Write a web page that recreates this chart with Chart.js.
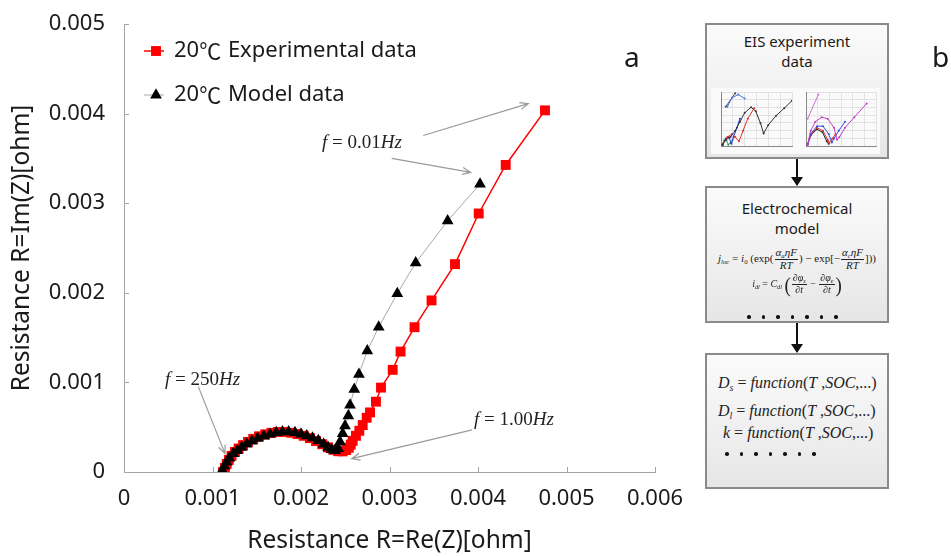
<!DOCTYPE html>
<html>
<head>
<meta charset="utf-8">
<script src="https://cdn.jsdelivr.net/npm/chart.js@4.4.1/dist/chart.umd.min.js"></script>
<style>
  html, body { margin: 0; padding: 0; background: #fff; }
  #wrap { position: relative; width: 951px; height: 556px; overflow: hidden; }
  #main { position: absolute; left: 0; top: 0; }
  .tag { position: absolute; font-family: "Noto Sans", "DejaVu Sans", sans-serif; font-size: 28px; color: #1a1a1a; line-height: 1; }
  .box { position: absolute; left: 705px; width: 184px; box-sizing: border-box;
         border: 2px solid #8a8a8a; background: linear-gradient(#fbfbfb, #e6e6e6); }
  .head { position: absolute; left: 0; width: 100%; text-align: center;
          font-family: "Noto Sans", "DejaVu Sans", sans-serif; font-size: 15px; line-height: 20px; color: #1a1a1a; }
  .flow { position: absolute; left: 796px; width: 2px; background: #111; }
  .flow::after { content: ""; position: absolute; left: -5px; bottom: -1px; border-left: 6px solid transparent;
                 border-right: 6px solid transparent; border-top: 9px solid #111; }
  .eq { position: absolute; left: 705px; width: 184px; text-align: center; white-space: nowrap;
        font-family: "Liberation Serif", "Times New Roman", serif; color: #222; }
  .eq i { font-style: italic; }
  .eq sub { font-size: 0.62em; vertical-align: -0.3em; }
  .frac { display: inline-flex; flex-direction: column; vertical-align: middle; text-align: center; line-height: 1.05; margin: 0 1px; }
  .frac > span:first-child { border-bottom: 1px solid #222; padding: 0 1px; }
  .big { font-size: 1.9em; vertical-align: middle; font-style: normal; display: inline-block; transform: scaleY(1.15); line-height: 1; }
  .dots { position: absolute; display: flex; gap: 11px; }
  .dots span { width: 3.5px; height: 3.5px; border-radius: 50%; background: #111; }
  .thumb { position: absolute; background: #fafafa; filter: blur(0.45px); }
</style>
</head>
<body>
<div id="wrap">
  <canvas id="main" width="951" height="556"></canvas>
  <div class="tag" style="left:624px; top:42px;">a</div>
  <div class="tag" style="left:932px; top:42px;">b</div>

  <div class="box" style="top:23px; height:136px;">
    <div class="head" style="top:6px;">EIS experiment<br>data</div>
  </div>
  <canvas class="thumb" id="thumbL" width="85" height="66" style="left:711px; top:88px;"></canvas>
  <canvas class="thumb" id="thumbR" width="84" height="66" style="left:796px; top:88px;"></canvas>
  <div class="flow" style="top:159px; height:26px;"></div>

  <div class="box" style="top:186px; height:137px;">
    <div class="head" style="top:10px;">Electrochemical<br>model</div>
  </div>
  <div class="eq" style="top:247px; font-size:11px;">
    <i>j</i><sub><i>loc</i></sub> = <i>i</i><sub>0</sub> (exp(<span class="frac"><span><i>α<sub>a</sub>ηF</i></span><span><i>RT</i></span></span>) − exp[−<span class="frac"><span><i>α<sub>c</sub>ηF</i></span><span><i>RT</i></span></span>]))
  </div>
  <div class="eq" style="top:273px; font-size:10px;">
    <i>i</i><sub><i>dl</i></sub> = <i>C</i><sub><i>dl</i></sub> <span class="big">(</span><span class="frac"><span><i>∂φ<sub>s</sub></i></span><span><i>∂t</i></span></span> − <span class="frac"><span><i>∂φ<sub>e</sub></i></span><span><i>∂t</i></span></span><span class="big">)</span>
  </div>
  <div class="dots" style="left:747px; top:315px;"><span></span><span></span><span></span><span></span><span></span><span></span><span></span></div>
  <div class="flow" style="top:323px; height:29px;"></div>

  <div class="box" style="top:353px; height:136px;"></div>
  <div class="eq" style="top:374px; font-size:16px; text-align:left; left:718px;"><i>D<sub>s</sub></i> = <i>function</i>(<i>T</i> ,<i>SOC</i>,...)</div>
  <div class="eq" style="top:402px; font-size:16px; text-align:left; left:718px;"><i>D<sub>l</sub></i> = <i>function</i>(<i>T</i> ,<i>SOC</i>,...)</div>
  <div class="eq" style="top:424px; font-size:16px; text-align:left; left:723px;"><i>k</i> = <i>function</i>(<i>T</i> ,<i>SOC</i>,...)</div>
  <div class="dots" style="left:725px; top:452px;"><span></span><span></span><span></span><span></span><span></span><span></span><span></span></div>
</div>

<script>
// ---- Nyquist data at 20 °C (Re(Z), Im(Z) in ohm) ----
const expLabel = '20\u2103 Experimental data';
const expRe = [0.001119, 0.001140, 0.001160, 0.001185, 0.001215, 0.001254, 0.001295, 0.001345, 0.001401, 0.001460,
               0.001525, 0.001595, 0.001665, 0.001740, 0.001815, 0.001890, 0.001960, 0.002030, 0.002100, 0.002170,
               0.002240, 0.002305, 0.002365, 0.002420, 0.002470, 0.002510, 0.002540, 0.002562, 0.002584, 0.002621,
               0.002659, 0.002697, 0.002742, 0.002780, 0.002847, 0.002904, 0.003036, 0.003125, 0.003283, 0.003475,
               0.003740, 0.004008, 0.004313, 0.004757];
const expIm = [0.000000, 0.000045, 0.000090, 0.000135, 0.000180, 0.000224, 0.000262, 0.000300, 0.000336, 0.000370,
               0.000398, 0.000420, 0.000437, 0.000447, 0.000447, 0.000438, 0.000424, 0.000404, 0.000378, 0.000345,
               0.000310, 0.000275, 0.000248, 0.000232, 0.000230, 0.000245, 0.000270, 0.000306, 0.000348, 0.000404,
               0.000460, 0.000524, 0.000605, 0.000665, 0.000785, 0.000942, 0.001140, 0.001344, 0.001616, 0.001915,
               0.002320, 0.002885, 0.003427, 0.004036];

const modLabel = '20\u2103 Model data';
const modRe = [0.001110, 0.001135, 0.001160, 0.001190, 0.001235, 0.001280, 0.001330, 0.001386, 0.001445, 0.001510,
               0.001580, 0.001650, 0.001720, 0.001790, 0.001860, 0.001932, 0.002000, 0.002065, 0.002130, 0.002196,
               0.002255, 0.002305, 0.002345, 0.002384, 0.002420, 0.002441, 0.002471, 0.002497, 0.002535, 0.002554,
               0.002602, 0.002655, 0.002749, 0.002878, 0.003088, 0.003296, 0.003657, 0.004023];
const modIm = [0.000020, 0.000065, 0.000110, 0.000155, 0.000205, 0.000240, 0.000275, 0.000310, 0.000345, 0.000375,
               0.000400, 0.000422, 0.000440, 0.000448, 0.000448, 0.000440, 0.000423, 0.000403, 0.000380, 0.000350,
               0.000310, 0.000275, 0.000250, 0.000240, 0.000262, 0.000336, 0.000429, 0.000516, 0.000628, 0.000748,
               0.000923, 0.001091, 0.001353, 0.001618, 0.001992, 0.002335, 0.002803, 0.003214];

// axis ranges and tick step
const reRange = [0, 0.006];
const imRange = [0, 0.005];
const tickStep = 0.001;

// frequency call-outs: label anchor and arrows (tail -> head), in ohm
const freqNotes = [
  { value: '0.01', at: [0.002237, 0.003677],
    arrows: [[0.003382, 0.003756, 0.004568, 0.004111], [0.003025, 0.003501, 0.003918, 0.003344]] },
  { value: '250', at: [0.000463, 0.001031],
    arrows: [[0.000840, 0.000953, 0.001141, 0.000205]] },
  { value: '1.00', at: [0.003955, 0.000583],
    arrows: [[0.003932, 0.000471, 0.002573, 0.000149]] }
];

const pts = (xs, ys) => xs.map((x, i) => ({ x, y: ys[i] }));
const SANS = '"Noto Sans", "Noto Sans CJK KR", sans-serif';
const CJK = '"Noto Sans CJK KR", "Noto Sans", sans-serif';
const AXIS = '#a3a3a3';
const fmt = v => (Math.abs(v) < 1e-12 ? '0' : v.toFixed(3));

// inward tick marks on both axes
const innerTicks = {
  id: 'innerTicks',
  beforeDatasetsDraw(chart) {
    const { ctx, scales: { x, y } } = chart;
    ctx.save();
    ctx.strokeStyle = AXIS; ctx.lineWidth = 1;
    ctx.beginPath();
    x.ticks.forEach(t => { const p = Math.round(x.getPixelForValue(t.value)) + 0.5; ctx.moveTo(p, y.bottom); ctx.lineTo(p, y.bottom - 5); });
    y.ticks.forEach(t => { const p = Math.round(y.getPixelForValue(t.value)) + 0.5; ctx.moveTo(x.left, p); ctx.lineTo(x.left + 5, p); });
    ctx.stroke();
    ctx.restore();
  }
};

// frequency labels with arrows
const freqCallouts = {
  id: 'freqCallouts',
  afterDatasetsDraw(chart) {
    const { ctx, scales: { x, y } } = chart;
    ctx.save();
    ctx.strokeStyle = '#9a9a9a'; ctx.lineWidth = 1.2;
    freqNotes.forEach(n => {
      n.arrows.forEach(a => {
        const x1 = x.getPixelForValue(a[0]), y1 = y.getPixelForValue(a[1]);
        const x2 = x.getPixelForValue(a[2]), y2 = y.getPixelForValue(a[3]);
        const ang = Math.atan2(y2 - y1, x2 - x1), L = 9, w = 0.4;
        ctx.beginPath();
        ctx.moveTo(x1, y1); ctx.lineTo(x2, y2);
        ctx.moveTo(x2 - L * Math.cos(ang - w), y2 - L * Math.sin(ang - w));
        ctx.lineTo(x2, y2);
        ctx.lineTo(x2 - L * Math.cos(ang + w), y2 - L * Math.sin(ang + w));
        ctx.stroke();
      });
      const parts = [['f', true], [' = ', false], [n.value, false], ['Hz', true]];
      let cx = x.getPixelForValue(n.at[0]);
      const cy = y.getPixelForValue(n.at[1]);
      ctx.fillStyle = '#222'; ctx.textBaseline = 'middle'; ctx.textAlign = 'left';
      parts.forEach(([t, it]) => {
        ctx.font = (it ? 'italic ' : '') + '19px "Liberation Serif", serif';
        ctx.fillText(t, cx, cy);
        cx += ctx.measureText(t).width;
      });
    });
    ctx.restore();
  }
};

// legend inside the plot, upper-left; the degree sign uses the CJK face
const innerLegend = {
  id: 'innerLegend',
  afterDraw(chart) {
    const { ctx } = chart;
    const rows = [51, 95];
    ctx.save();
    chart.data.datasets.forEach((ds, i) => {
      const yy = rows[i];
      ctx.strokeStyle = ds.borderColor; ctx.lineWidth = ds.borderWidth;
      ctx.beginPath(); ctx.moveTo(144, yy); ctx.lineTo(164, yy); ctx.stroke();
      ctx.fillStyle = ds.pointBackgroundColor; ctx.strokeStyle = ds.pointBorderColor;
      Chart.helpers.drawPoint(ctx, { pointStyle: ds.pointStyle, radius: ds.pointRadius, rotation: 0, borderWidth: 0 }, 156, yy);
      ctx.fillStyle = '#1a1a1a';
      ctx.textBaseline = 'middle'; ctx.textAlign = 'left';
      let cx = 174;
      ds.label.split(/(\u2103)/).forEach(seg => {
        if (!seg) return;
        ctx.font = '22px ' + (seg === '\u2103' ? CJK : SANS);
        ctx.fillText(seg, cx, yy);
        cx += ctx.measureText(seg).width + (seg === '\u2103' ? 1 : 0);
      });
    });
    ctx.restore();
  }
};

new Chart(document.getElementById('main'), {
  type: 'scatter',
  data: {
    datasets: [
      { label: expLabel, data: pts(expRe, expIm), showLine: true, order: 2,
        borderColor: '#ff0000', borderWidth: 1.5, pointStyle: 'rect', pointRadius: 7,
        pointBackgroundColor: '#ff0000', pointBorderColor: '#ff0000', pointBorderWidth: 0 },
      { label: modLabel, data: pts(modRe, modIm), showLine: true, order: 1,
        borderColor: '#a8a8a8', borderWidth: 1, pointStyle: 'triangle', pointRadius: 6.8,
        pointBackgroundColor: '#000000', pointBorderColor: '#000000', pointBorderWidth: 0 }
    ]
  },
  options: {
    responsive: false, animation: false, devicePixelRatio: 1,
    layout: { padding: { left: 0, top: 24, right: 296, bottom: 0 } },
    plugins: { legend: { display: false }, tooltip: { enabled: false } },
    scales: {
      x: {
        type: 'linear', min: reRange[0], max: reRange[1],
        grid: { display: false, drawTicks: false }, border: { display: true, color: AXIS, width: 1 },
        ticks: { stepSize: tickStep, callback: fmt, padding: 14, color: '#1a1a1a', font: { family: SANS, size: 22 }, maxRotation: 0 },
        title: { display: true, text: 'Resistance R=Re(Z)[ohm]', color: '#1a1a1a', font: { family: SANS, size: 24.5 }, padding: { top: 0, bottom: 0 } },
        afterFit: s => { s.height = 84; }
      },
      y: {
        type: 'linear', min: imRange[0], max: imRange[1],
        grid: { display: false, drawTicks: false }, border: { display: true, color: AXIS, width: 1 },
        ticks: { stepSize: tickStep, callback: fmt, padding: 19, color: '#1a1a1a', font: { family: SANS, size: 22 } },
        title: { display: true, text: 'Resistance R=Im(Z)[ohm]', color: '#1a1a1a', font: { family: SANS, size: 24.5 }, padding: { top: 7, bottom: 0 } },
        afterFit: s => { s.width = 124; s.paddingTop = 0; s.paddingBottom = 0; }
      }
    }
  },
  plugins: [innerTicks, freqCallouts, innerLegend]
});

// ---- thumbnail Nyquist sketches inside the "EIS experiment data" box ----
const thumbLeft = [
  { color: '#333333', re: [7, 20, 40, 60, 80, 100, 127, 147, 167, 180, 200, 233, 267, 300],
                      im: [6, 24, 35, 59, 94, 129, 151, 135, 88, 49, 82, 118, 147, 176] },
  { color: '#e03030', re: [7, 27, 47, 60, 76, 93, 113, 140], im: [6, 35, 47, 35, 18, 59, 106, 147] },
  { color: '#2040e0', re: [7, 20, 33, 44, 53, 67, 80], im: [2, 29, 35, 9, 35, 71, 106] },
  { color: '#20a040', re: [4, 13, 23, 31, 40, 49], im: [2, 21, 21, 5, 12, 24] },
  { color: '#5070e0', re: [27, 47, 73, 100], im: [153, 188, 200, 185] },
  { color: '#444444', re: [20, 60], im: [153, 205] }
];
const thumbRight = [
  { color: '#c040c0', re: [7, 20, 40, 67, 93, 120, 133, 143, 167, 207, 260],
                      im: [6, 59, 94, 112, 106, 71, 24, 35, 71, 112, 165] },
  { color: '#3050e0', re: [7, 20, 47, 73, 97, 111, 120, 140, 167], im: [6, 47, 77, 77, 47, 14, 29, 59, 94] },
  { color: '#e03030', re: [7, 23, 47, 73, 93, 100, 113, 127], im: [6, 47, 71, 59, 24, 12, 29, 47] },
  { color: '#222222', re: [7, 20, 47, 71, 89, 97], im: [6, 41, 65, 53, 18, 9] },
  { color: '#d070d0', re: [7, 53], im: [106, 200] }
];

function thumb(id, series) {
  new Chart(document.getElementById(id), {
    type: 'scatter',
    data: { datasets: series.map(s => ({ data: pts(s.re, s.im), showLine: true, borderColor: s.color,
      borderWidth: 1, pointRadius: 1, pointBackgroundColor: s.color, pointBorderWidth: 0 })) },
    options: {
      responsive: false, animation: false, devicePixelRatio: 1,
      layout: { padding: { left: 10, top: 3, right: 3, bottom: 8 } },
      plugins: { legend: { display: false }, tooltip: { enabled: false } },
      scales: {
        x: { min: 0, max: 300, ticks: { display: false, stepSize: 50 }, grid: { color: '#e2e2e2', drawTicks: false }, border: { color: '#888' } },
        y: { min: 0, max: 210, ticks: { display: false, stepSize: 30 }, grid: { color: '#e2e2e2', drawTicks: false }, border: { color: '#888' } }
      }
    }
  });
}
thumb('thumbL', thumbLeft);
thumb('thumbR', thumbRight);
</script>
</body>
</html>
